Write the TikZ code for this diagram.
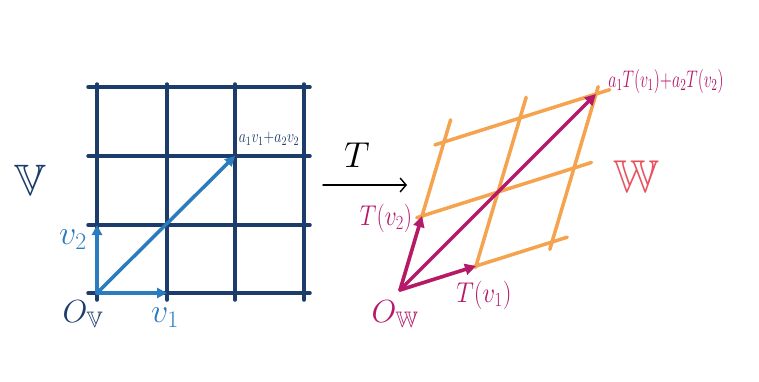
\RequirePackage{fix-cm}
\documentclass[tikz,border=0pt]{standalone}
\usepackage{amssymb}
\usepackage{graphicx}
\usetikzlibrary{arrows.meta}
\definecolor{navy}{HTML}{1C3C6C}
\definecolor{vblue}{HTML}{2B7BBF}
\definecolor{worange}{HTML}{F5A34E}
\definecolor{wmag}{HTML}{B4196B}
\definecolor{wred}{HTML}{E8525E}
\begin{document}
\begin{tikzpicture}[x=1pt,y=-1pt, line cap=round, line join=round,
  gridline/.style={navy, line width=3.5pt},
  wline/.style={worange, line width=3.5pt},
  vvec/.style={vblue, line width=3.5pt, -{Triangle[length=10pt,width=10pt]}},
  wvec/.style={wmag, line width=3.5pt, -{Triangle[length=11pt,width=11pt]}},
  maparrow/.style={black, line width=1.4pt, -{Straight Barb[length=6pt,width=14pt]}},
  lab/.style={inner sep=0pt, anchor=center}]
\useasboundingbox[fill=white] (0,0) rectangle (759,381);

% ---------- left grid (V) ----------
\foreach \i/\x in {0/97,1/167,2/235,3/304}{
  \draw[gridline] (\x,84) -- (\x,300);
}
\foreach \j/\y in {0/293,1/225,2/156,3/87}{
  \draw[gridline] (88,\y) -- (310,\y);
}
\coordinate (OV) at (97,293);
\coordinate (V1) at (167,293);
\coordinate (V2) at (97,225);
\coordinate (V12) at (235,156);
\draw[vvec] (OV) -- (V1);
\draw[vvec] (OV) -- (V2);
\draw[vvec] (OV) -- (V12);

\node[lab, text=navy] (lV) at (30,180) {\fontsize{44}{48}\selectfont$\mathbb{V}$};
\node[lab, text=vblue] (lv2) at (73,240) {\fontsize{34}{38}\selectfont$v_2$};
\node[lab, text=navy] (lOV) at (83,314) {\fontsize{32}{36}\selectfont$O_{\mathbb{V}}$};
\node[lab, text=vblue] (lv1) at (165,318) {\fontsize{34}{38}\selectfont$v_1$};
\node[lab, text=navy] (lcomb) at (269,139) {\scalebox{1}[1.3]{\fontsize{14}{16}\selectfont$a_1v_1{+}a_2v_2$}};

% ---------- map T ----------
\coordinate (Ta) at (323,185);
\coordinate (Tb) at (407,185);
\draw[maparrow] (Ta) -- (Tb);
\node[lab] (lT) at (357,155) {\fontsize{36}{40}\selectfont$T$};

% ---------- right grid (W) ----------
\coordinate (OW) at (400,290);
\begin{scope}[shift={(OW)}, x={(76pt,24pt)}, y={(22pt,74pt)}]
  \draw[wline] (0,0) -- (2.2,0);
  \draw[wline] (-0.07,1) -- (2.23,1);
  \draw[wline] (-0.12,2) -- (2.18,2);
  \draw[wline] (0,0) -- (0,2.3);
  \draw[wline] (1,-0.02) -- (1,2.28);
  \draw[wline] (2,-0.1) -- (2,2.1);
  \coordinate (W0) at (0,0);
  \coordinate (W1) at (1,0);
  \coordinate (W2) at (0,1);
  \coordinate (W12) at (2,2);
\end{scope}
\draw[wvec] (W0) -- (W1);
\draw[wvec] (W0) -- (W2);
\draw[wvec] (W0) -- (W12);

\node[lab, text=wmag] (lTv2) at (386,218) {\scalebox{0.9}[1.1]{\fontsize{26}{30}\selectfont$T(v_2)$}};
\node[lab, text=wmag] (lOW) at (395,314) {\fontsize{32}{36}\selectfont$O_{\mathbb{W}}$};
\node[lab, text=wmag] (lTv1) at (484,295) {\scalebox{0.95}[1.1]{\fontsize{26}{30}\selectfont$T(v_1)$}};
\node[lab, text=wred] (lW) at (636,177) {\fontsize{46}{50}\selectfont$\mathbb{W}$};
\node[lab, text=wmag] (lTcomb) at (666,81) {\scalebox{1}[1.5]{\fontsize{16}{19}\selectfont$a_1T(v_1){+}a_2T(v_2)$}};
\end{tikzpicture}
\end{document}
